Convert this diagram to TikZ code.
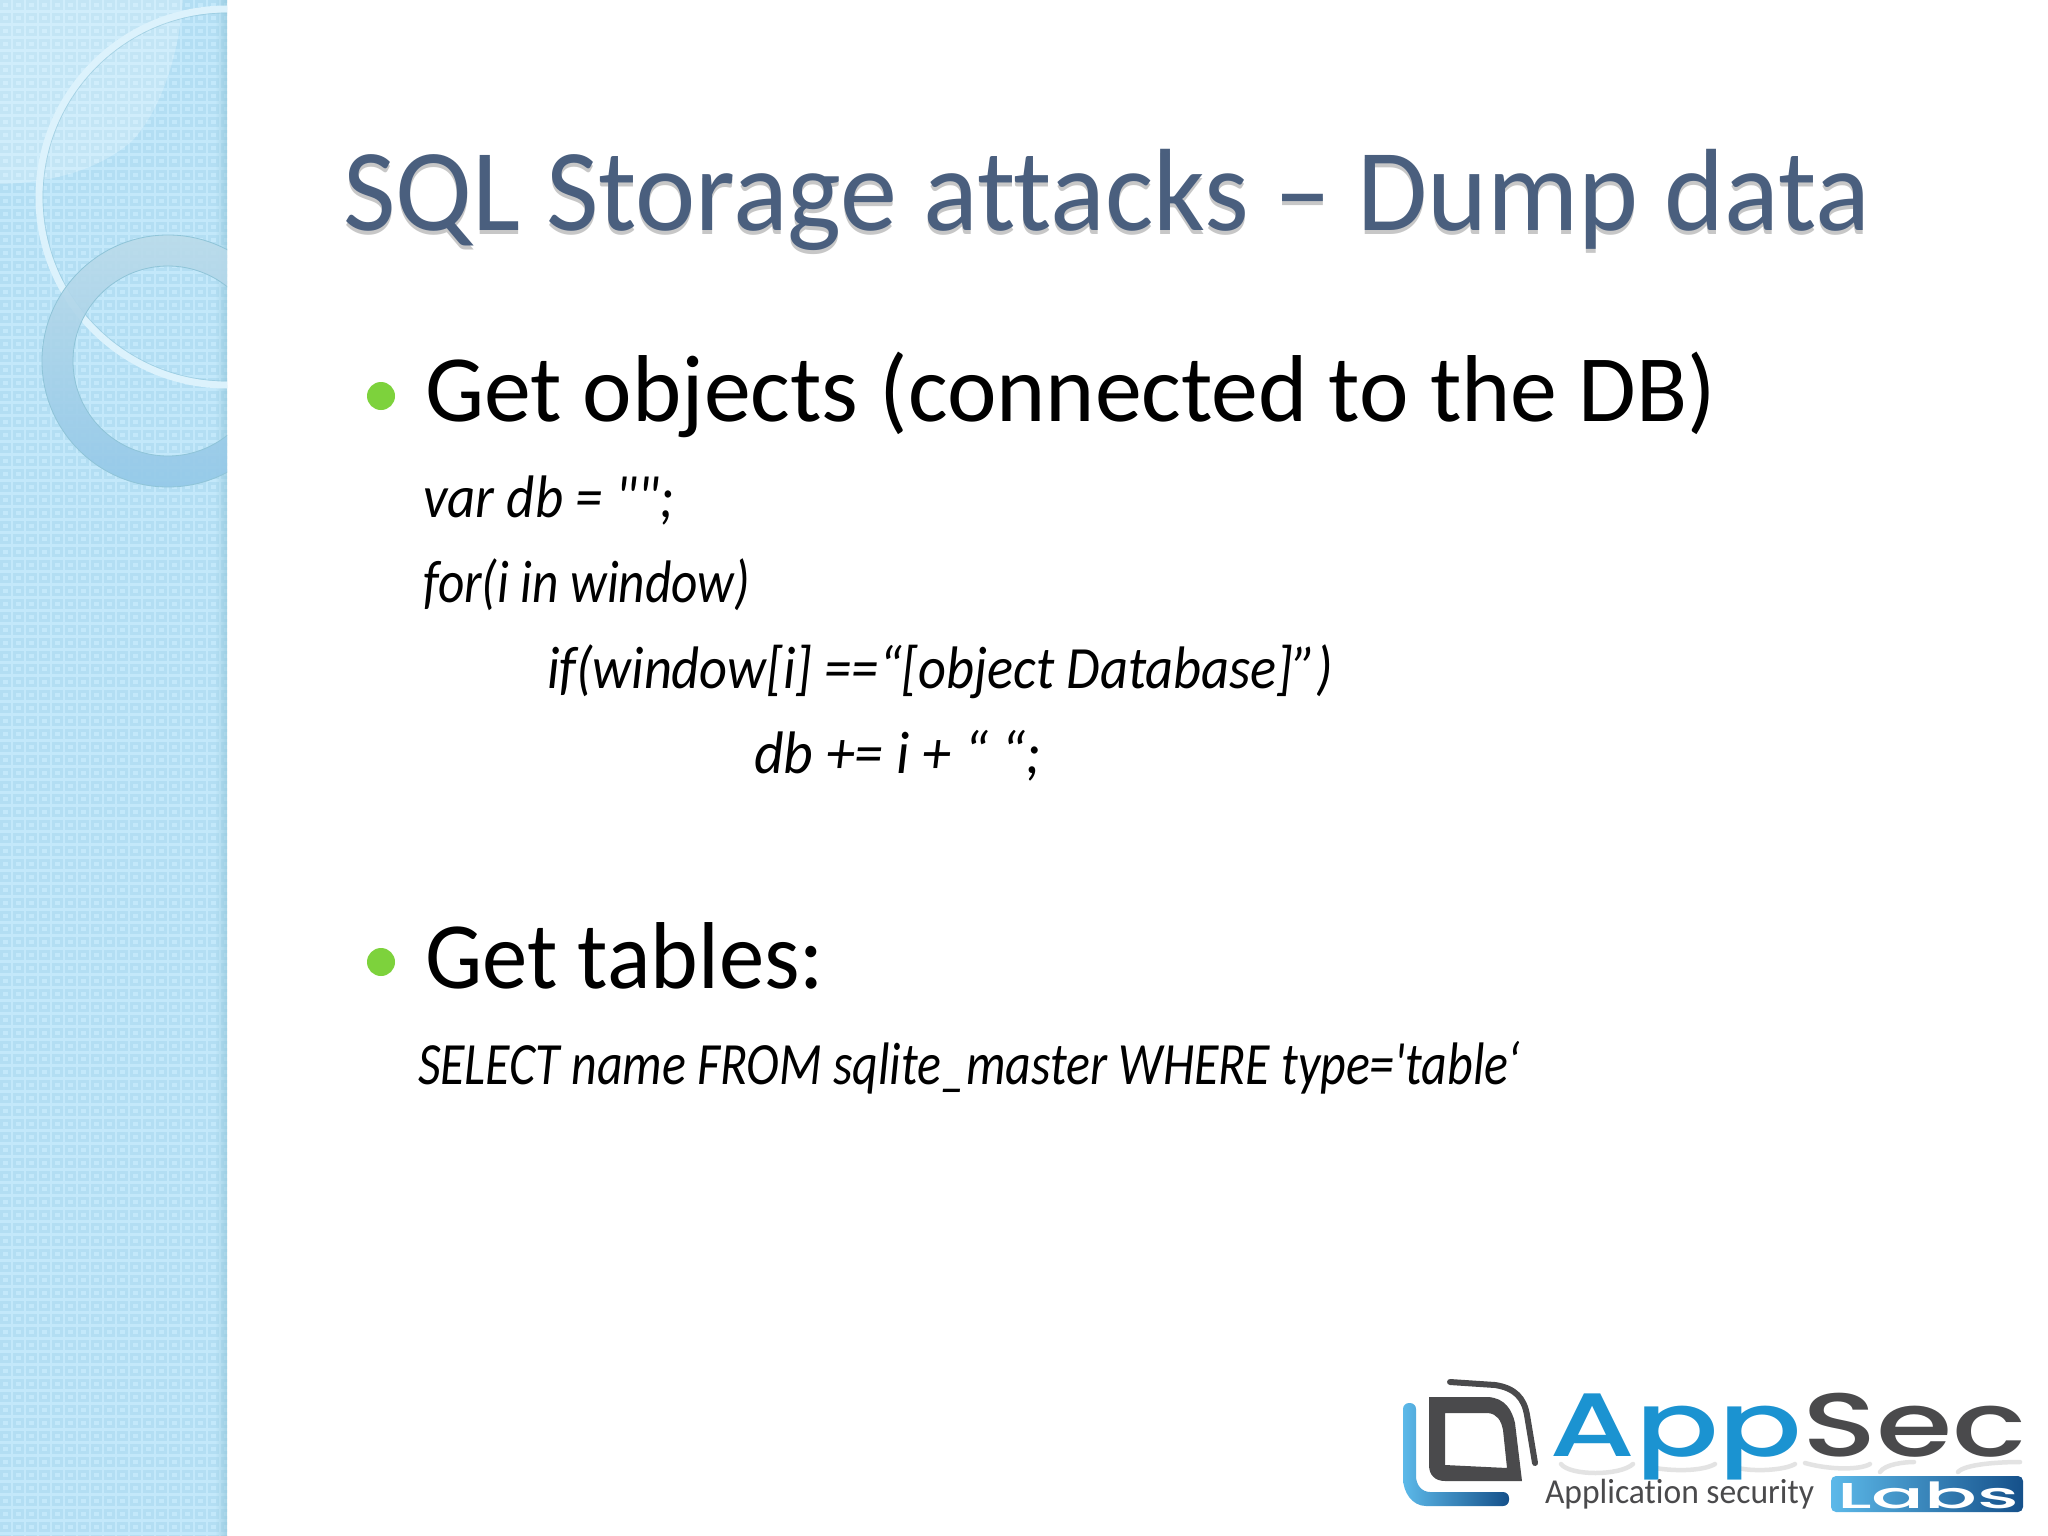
\documentclass[tikz,border=0pt]{standalone}
\usepackage{fontspec}
\usepackage{graphicx}
\setmainfont{Carlito}
\newfontfamily\slidefont{Carlito}[Ligatures=NoCommon]
\newfontfamily\logofont{Poppins}[UprightFont=* Medium]
\definecolor{bandbase}{HTML}{C3E8FA}
\definecolor{bandsq}{HTML}{A6D6EE}
\definecolor{bandedge}{HTML}{8FC4D8}
\definecolor{ringtop}{HTML}{BBDBEA}
\definecolor{ringbot}{HTML}{93C8E8}
\definecolor{titleblue}{HTML}{4A5F7E}
\definecolor{bulletgreen}{HTML}{7DD23C}
\definecolor{logoblue}{HTML}{1B93D1}
\definecolor{logolight}{HTML}{5CB9E9}
\definecolor{logonavy}{HTML}{15508A}
\definecolor{logodark}{HTML}{4A4A4C}
\newcommand{\fitw}[2]{\resizebox{#1}{\height}{#2}}
\tikzset{
  txt/.style={inner sep=0pt,outer sep=0pt,anchor=base west},
  titletxt/.style={txt,font=\slidefont\fontsize{117}{117}\selectfont},
  bigtxt/.style={txt,font=\slidefont\fontsize{95}{95}\selectfont,text=black},
  codetxt/.style={txt,font=\slidefont\itshape\fontsize{60}{60}\selectfont,text=black},
  dotbullet/.style={circle,fill=bulletgreen,inner sep=0pt,minimum size=28pt},
  logotxt/.style={txt,font=\logofont\fontsize{90}{90}\selectfont},
  reflect/.style={draw=black!11,line width=4.5pt,line cap=round},
}
\begin{document}
\begin{tikzpicture}[x=1pt,y=-1pt]
\useasboundingbox (0,0) rectangle (2048,1536);
\fill[white] (0,0) rectangle (2048,1536);
% side band
\begin{scope}
\clip (0,0) rectangle (227,1536);
\fill[bandbase] (0,0) rectangle (227,1536);
\draw[bandsq,line width=3pt,opacity=.55]
  \foreach \i in {0,...,17}{\foreach \j in {0,...,118}{
    ({1+13*\i},{2+13*\j}) rectangle ++(8,7)
  }};
\foreach \k in {0,...,12}{
  \fill[bandedge,opacity={0.05*\k}] ({215+\k},0) rectangle ({216+\k},1536);
}
% pale lens
\fill[white,opacity=.22] (0,0) -- (183,0) .. controls (178,60) and (160,110) .. (133,140)
  .. controls (100,170) and (50,183) .. (0,184) -- cycle;
% thin ring
\draw[draw=white!42!bandbase,line width=7pt] (227,197) circle[radius=188];
\draw[draw=bandedge,line width=.7pt,opacity=.6] (227,197) circle[radius=184];
% thick ring
\shade[even odd rule,top color=ringtop,bottom color=ringbot,opacity=.9,shading angle=0]
  (168,361) circle[radius=126] (168,361) circle[radius=95];
\draw[bandedge,line width=.8pt] (168,361) circle[radius=126] (168,361) circle[radius=95];
\end{scope}
% title
\node[titletxt] (title) at (343,230) {\fitw{1527pt}{\rlap{\raisebox{-4pt}{\textcolor{black!22}{SQL Storage attacks – Dump data}}}\textcolor{titleblue}{SQL Storage attacks – Dump data}}};
% first bullet
\node[dotbullet] (dota) at (381,396) {};
\node[bigtxt] (heada) at (425,421) {\fitw{1291pt}{Get objects (connected to the DB)}};
\node[codetxt] (linea) at (423,517) {\fitw{251pt}{var db = "";}};
\node[codetxt] (lineb) at (423,602) {\fitw{327pt}{for(i in window)}};
\node[codetxt] (linec) at (547,688) {\fitw{786pt}{if(window[i] ==“[object Database]”)}};
\node[codetxt] (lined) at (754,773) {\fitw{287pt}{db += i + “ “;}};
% second bullet
\node[dotbullet] (dotb) at (381,962) {};
\node[bigtxt] (headb) at (425,988) {\fitw{399pt}{Get tables:}};
\node[codetxt] (linee) at (418,1084) {\fitw{1102pt}{SELECT name FROM sqlite\_master WHERE type='table‘}};
% logo mark
\shade[left color=logolight,right color=logonavy,rounded corners=6pt]
  (1403,1403) -- (1416,1403) -- (1416,1470) .. controls (1416,1485) and (1422,1492) .. (1436,1492) -- (1509,1492) -- (1509,1506)
  -- (1432,1506) .. controls (1412,1506) and (1403,1492) .. (1403,1472) -- cycle;
\fill[even odd rule,logodark]
  (1429,1397) -- (1488,1397) .. controls (1505,1398) and (1512,1410) .. (1515,1423) -- (1522,1481) -- (1445,1481)
  .. controls (1435,1481) and (1429,1475) .. (1429,1465) -- cycle
  (1445,1413) -- (1488,1413) .. controls (1497,1414) and (1501,1420) .. (1503,1430) -- (1507,1468) -- (1445,1465) -- cycle;
\draw[logodark,line width=6pt,line cap=round] (1450,1382) -- (1495,1385) .. controls (1515,1388) and (1524,1398) .. (1527,1415) -- (1535,1463);
% logo reflections
\draw[reflect] (1561,1464) .. controls (1570,1476) and (1620,1476) .. (1633,1464);
\draw[reflect] (1655,1468) .. controls (1680,1472) and (1705,1470) .. (1715,1464);
\draw[reflect] (1738,1468) .. controls (1755,1472) and (1785,1470) .. (1795,1464);
\draw[reflect] (1805,1463) .. controls (1830,1470) and (1860,1470) .. (1870,1464);
\draw[reflect] (1880,1472) .. controls (1885,1464) and (1905,1462) .. (1914,1462);
\draw[reflect] (1958,1472) .. controls (1965,1464) and (2000,1462) .. (2020,1462);
% logo text
\node[logotxt] (appsec) at (1549,1456) {\fitw{478pt}{\textcolor{logoblue}{App}\textcolor{logodark}{Sec}}};
\node[txt,font=\slidefont\fontsize{35}{35}\selectfont,text=logodark] (appsecur) at (1545,1503) {\fitw{269pt}{Application security}};
\shade[left color=logolight,right color=logonavy,rounded corners=5pt] (1831,1476) rectangle (2023,1512);
\node[txt,font=\logofont\fontsize{36}{36}\selectfont,text=white] (labs) at (1837,1508) {\fitw{182pt}{Labs}};
\end{tikzpicture}
\end{document}
